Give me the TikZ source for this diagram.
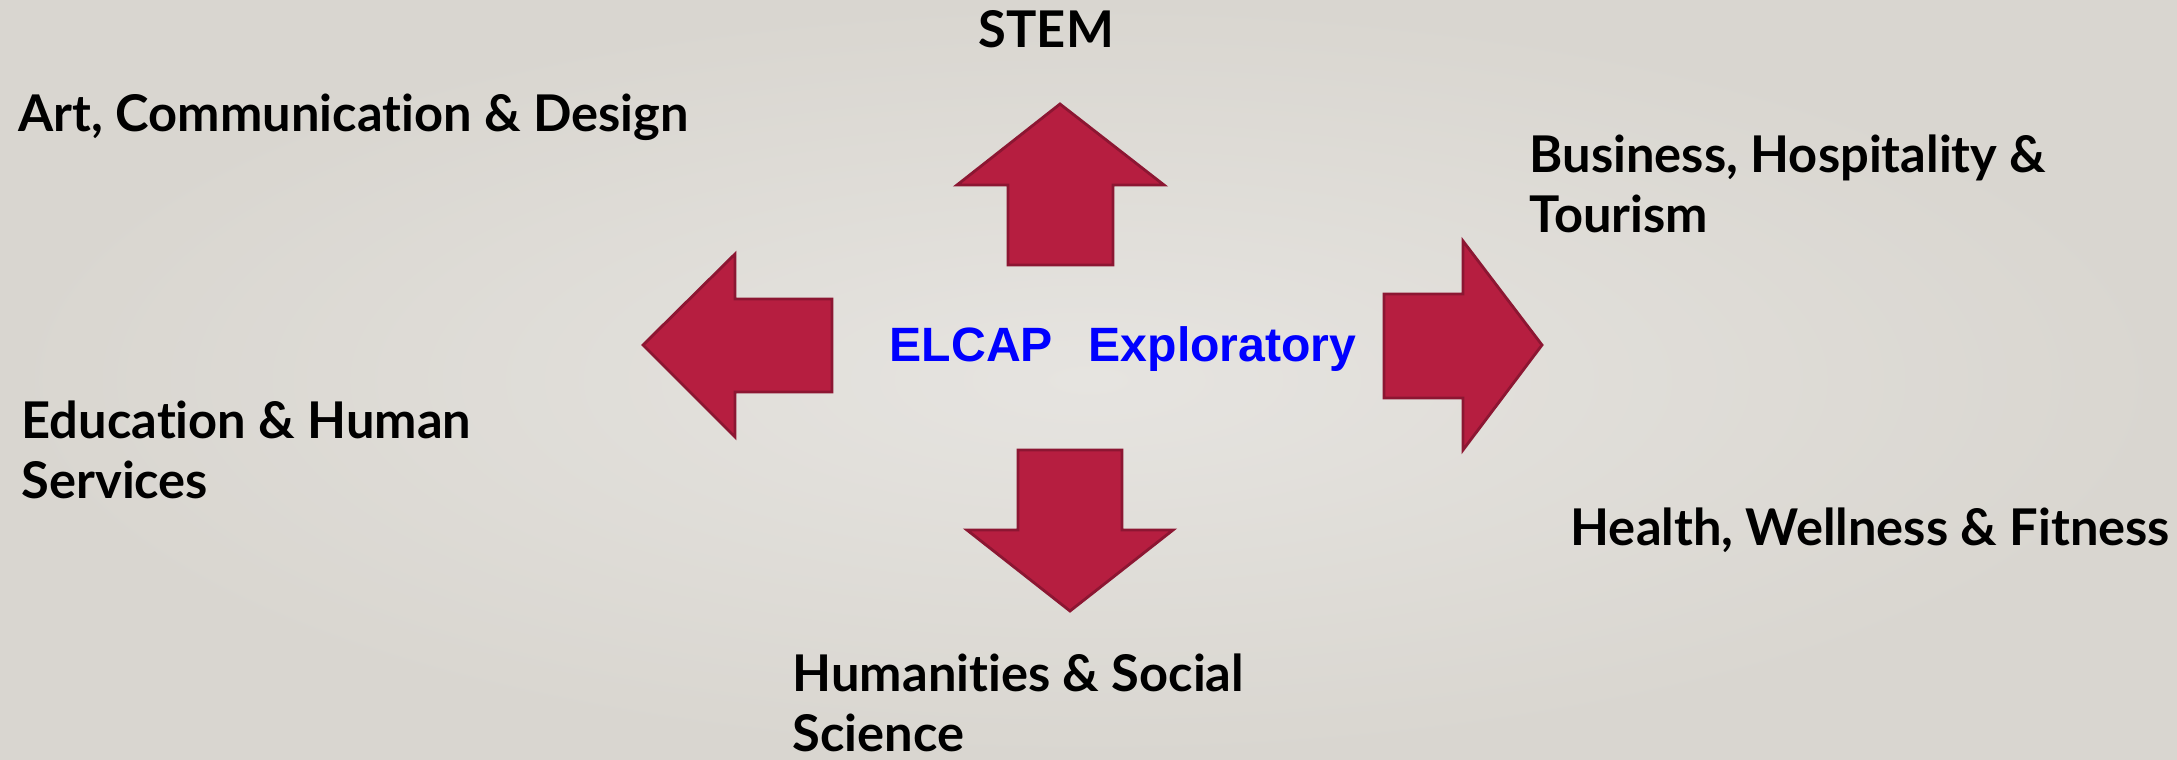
\documentclass[tikz,border=0pt]{standalone}
\usepackage{fontspec}
\setmainfont{Lato}[Ligatures=NoCommon]
\newfontfamily\arialfont{Liberation Sans}

\definecolor{arrowred}{RGB}{182,30,64}
\definecolor{arrowedge}{RGB}{140,22,50}
\definecolor{bgin}{RGB}{230,228,224}
\definecolor{bgout}{RGB}{217,214,208}
\definecolor{labelblue}{RGB}{0,0,255}

\tikzset{
  bigarrow/.style={fill=arrowred,draw=arrowedge,line width=0.8pt,line join=miter},
  field/.style={font=\fontsize{14.4}{17}\selectfont\bfseries,align=left,inner sep=0pt,anchor=base west},
  centre/.style={font=\arialfont\fontsize{13.7}{16}\selectfont\bfseries,text=labelblue,inner sep=0pt,anchor=base west}
}

\begin{document}
\begin{tikzpicture}[x=0.01cm,y=-0.01cm]

\useasboundingbox (0,0) rectangle (2177,760);
\fill[inner color=bgin,outer color=bgout] (0,0) rectangle (2177,760);

\draw[bigarrow] (1060,104) -- (1164,185) -- (1113,185) -- (1113,265) -- (1008,265) -- (1008,185) -- (957,185) -- cycle;
\draw[bigarrow] (643,345) -- (735,254) -- (735,299) -- (832,299) -- (832,392) -- (735,392) -- (735,437) -- cycle;
\draw[bigarrow] (1542,345) -- (1463,241) -- (1463,294) -- (1384,294) -- (1384,398) -- (1463,398) -- (1463,450) -- cycle;
\draw[bigarrow] (1070,611) -- (1173,530) -- (1122,530) -- (1122,450) -- (1018,450) -- (1018,530) -- (967,530) -- cycle;

\node[field] (stem) at (978,47) {STEM};
\node[field] (art) at (18,131) {Art, Communication \& Design};
\node[field] (business) at (1529,232) {Business, Hospitality \&\\Tourism};
\node[field] (education) at (21,498) {Education \& Human\\Services};
\node[field] (health) at (1570,545) {Health, Wellness \& Fitness};
\node[field] (humanities) at (792,751) {Humanities \& Social\\Science};

\node[centre] (elcap) at (889,361) {ELCAP};
\node[centre] (exploratory) at (1088,361) {Exploratory};

\end{tikzpicture}
\end{document}
